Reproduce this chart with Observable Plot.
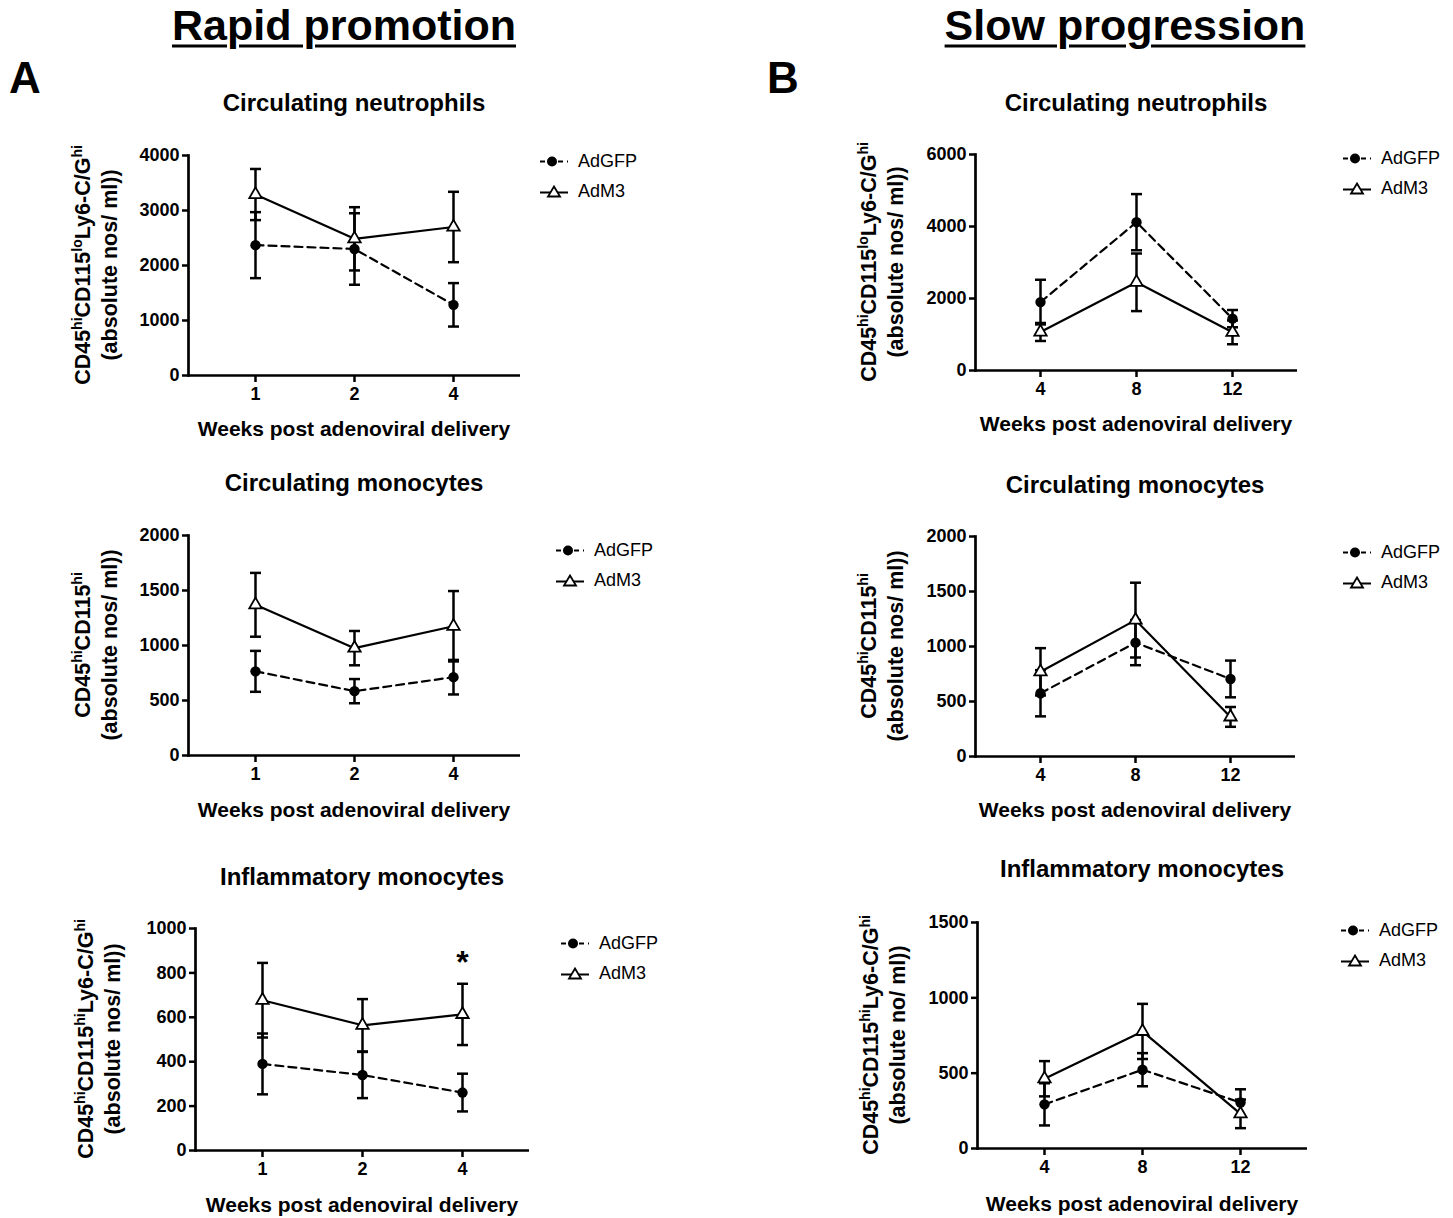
<!DOCTYPE html>
<html><head><meta charset="utf-8">
<script src="https://cdn.jsdelivr.net/npm/d3@7"></script>
<script src="https://cdn.jsdelivr.net/npm/@observablehq/plot@0.6"></script>
<style>
body{margin:0;background:#fff;font-family:"Liberation Sans",Arial,Helvetica,sans-serif;color:#000;}
#root{position:relative;width:1453px;height:1218px;overflow:hidden;background:#fff;}
.abs{position:absolute;white-space:nowrap;color:#000;}
.hdr{font-size:43px;font-weight:bold;text-decoration:underline;text-decoration-thickness:3px;text-underline-offset:5px;transform:translate(-50%,-50%);}
.letter{font-size:44px;font-weight:bold;transform:translateY(-50%);}
.title{font-size:24px;font-weight:bold;transform:translate(-50%,-50%);}
.xlab{font-size:21px;font-weight:bold;transform:translate(-50%,-50%);}
.ylab{font-size:21.5px;font-weight:bold;transform:translate(-50%,-50%) rotate(-90deg);text-align:center;line-height:25px;}
.ylab sup{font-size:14px;vertical-align:0;position:relative;top:-8px;}
.leg{font-size:18px;display:flex;align-items:center;transform:translateY(-50%);}
.leg svg{margin-right:10px;}
.plot{position:absolute;}
</style></head><body><div id="root"></div>
<script>
// ---------- data ----------
const weeksRapid = ["1","2","4"];
const weeksSlow = ["4","8","12"];
const groups = ["AdGFP","AdM3"];

// Rapid promotion - circulating neutrophils
const rapidNeutGFP = [2370, 2300, 1285];
const rapidNeutGFPsem = [600, 650, 395];
const rapidNeutM3 = [3290, 2485, 2700];
const rapidNeutM3sem = [465, 575, 640];
const rapidNeutTicks = [0, 1000, 2000, 3000, 4000];

// Rapid promotion - circulating monocytes
const rapidMonoGFP = [765, 585, 712];
const rapidMonoGFPsem = [186, 110, 157];
const rapidMonoM3 = [1370, 976, 1175];
const rapidMonoM3sem = [290, 156, 320];
const rapidMonoTicks = [0, 500, 1000, 1500, 2000];

// Rapid promotion - inflammatory monocytes
const rapidInflGFP = [390, 340, 261];
const rapidInflGFPsem = [137, 104, 85];
const rapidInflM3 = [677, 564, 613];
const rapidInflM3sem = [168, 118, 138];
const rapidInflTicks = [0, 200, 400, 600, 800, 1000];
const rapidInflSig = [{week: "4", label: "*"}];

// Slow progression - circulating neutrophils
const slowNeutGFP = [1900, 4120, 1440];
const slowNeutGFPsem = [620, 780, 240];
const slowNeutM3 = [1070, 2450, 1060];
const slowNeutM3sem = [250, 800, 330];
const slowNeutTicks = [0, 2000, 4000, 6000];

// Slow progression - circulating monocytes
const slowMonoGFP = [575, 1035, 705];
const slowMonoGFPsem = [210, 205, 167];
const slowMonoM3 = [770, 1240, 360];
const slowMonoM3sem = [215, 340, 90];
const slowMonoTicks = [0, 500, 1000, 1500, 2000];

// Slow progression - inflammatory monocytes
const slowInflGFP = [293, 523, 305];
const slowInflGFPsem = [140, 110, 88];
const slowInflM3 = [463, 777, 230];
const slowInflM3sem = [117, 183, 95];
const slowInflTicks = [0, 500, 1000, 1500];

const titles = ["Circulating neutrophils", "Circulating monocytes", "Inflammatory monocytes"];
const xLabel = "Weeks post adenoviral delivery";
const yLabNeut = ["CD45<sup>hi</sup>CD115<sup>lo</sup>Ly6-C/G<sup>hi</sup>", "(absolute nos/ ml))"];
const yLabMono = ["CD45<sup>hi</sup>CD115<sup>hi</sup>", "(absolute nos/ ml))"];
const yLabInfl = ["CD45<sup>hi</sup>CD115<sup>hi</sup>Ly6-C/G<sup>hi</sup>", "(absolute nos/ ml))"];
const yLabInflSlow = ["CD45<sup>hi</sup>CD115<sup>hi</sup>Ly6-C/G<sup>hi</sup>", "(absolute no/ ml))"];

// ---------- layout ----------
const root = document.getElementById("root");
function addDiv(cls, x, y, html) {
  const d = document.createElement("div");
  d.className = "abs " + cls;
  d.style.left = x + "px"; d.style.top = y + "px";
  d.innerHTML = html;
  root.appendChild(d);
  return d;
}
addDiv("hdr", 344, 25, "Rapid promotion");
addDiv("hdr", 1125, 25, "Slow progression");
addDiv("letter", 9, 78, "A");
addDiv("letter", 767, 78, "B");

const panels = [
  {weeks: weeksRapid, gfp: rapidNeutGFP, gfpSem: rapidNeutGFPsem, m3: rapidNeutM3, m3Sem: rapidNeutM3sem, ticks: rapidNeutTicks,
   title: titles[0], ylab: yLabNeut, frame: [188, 520, 155, 375], titleY: 103, xlabY: 429, ylabX: 97, legX: 540, legY: 161},
  {weeks: weeksRapid, gfp: rapidMonoGFP, gfpSem: rapidMonoGFPsem, m3: rapidMonoM3, m3Sem: rapidMonoM3sem, ticks: rapidMonoTicks,
   title: titles[1], ylab: yLabMono, frame: [188, 520, 535, 755], titleY: 483, xlabY: 810, ylabX: 97, legX: 556, legY: 550},
  {weeks: weeksRapid, gfp: rapidInflGFP, gfpSem: rapidInflGFPsem, m3: rapidInflM3, m3Sem: rapidInflM3sem, ticks: rapidInflTicks,
   title: titles[2], ylab: yLabInfl, frame: [195, 529, 928, 1150], titleY: 877, xlabY: 1205, ylabX: 100, legX: 561, legY: 943, sig: rapidInflSig},
  {weeks: weeksSlow, gfp: slowNeutGFP, gfpSem: slowNeutGFPsem, m3: slowNeutM3, m3Sem: slowNeutM3sem, ticks: slowNeutTicks,
   title: titles[0], ylab: yLabNeut, frame: [975, 1297, 154, 370], titleY: 103, xlabY: 424, ylabX: 883, legX: 1343, legY: 158},
  {weeks: weeksSlow, gfp: slowMonoGFP, gfpSem: slowMonoGFPsem, m3: slowMonoM3, m3Sem: slowMonoM3sem, ticks: slowMonoTicks,
   title: titles[1], ylab: yLabMono, frame: [975, 1295, 536, 756], titleY: 485, xlabY: 810, ylabX: 883, legX: 1343, legY: 552},
  {weeks: weeksSlow, gfp: slowInflGFP, gfpSem: slowInflGFPsem, m3: slowInflM3, m3Sem: slowInflM3sem, ticks: slowInflTicks,
   title: titles[2], ylab: yLabInflSlow, frame: [977, 1307, 922, 1148], titleY: 869, xlabY: 1204, ylabX: 885, legX: 1341, legY: 930}
];

const mL = 70, mR = 10, mT = 20, mB = 40;
const legGFP = '<svg width="28" height="14"><line x1="0" x2="28" y1="7" y2="7" stroke="#000" stroke-width="2" stroke-dasharray="5,4"/><circle cx="12" cy="7" r="5" fill="#000"/></svg>';
const legM3 = '<svg width="28" height="14"><line x1="0" x2="28" y1="8" y2="8" stroke="#000" stroke-width="2"/><path d="M14,2 L20,12 L8,12 Z" fill="#fff" stroke="#000" stroke-width="1.8"/></svg>';

// horizontal cap symbol for error bars
const capSymbol = {draw(ctx) { ctx.moveTo(-5.5, 0); ctx.lineTo(5.5, 0); }};

for (const p of panels) {
  const [fx0, fx1, fy0, fy1] = p.frame;
  const rows = [];
  p.weeks.forEach((w, i) => {
    rows.push({group: groups[0], week: w, mean: p.gfp[i], sem: p.gfpSem[i]});
    rows.push({group: groups[1], week: w, mean: p.m3[i], sem: p.m3Sem[i]});
  });
  const gfpRows = rows.filter(d => d.group === groups[0]);
  const m3Rows = rows.filter(d => d.group === groups[1]);
  const yMax = p.ticks[p.ticks.length - 1];
  const marks = [
    Plot.ruleX(rows, {x: "week", y1: d => d.mean - d.sem, y2: d => d.mean + d.sem, stroke: "#000", strokeWidth: 2.5}),
    Plot.dot(rows, {x: "week", y: d => d.mean + d.sem, symbol: capSymbol, r: 5, fill: "none", stroke: "#000", strokeWidth: 2.5}),
    Plot.dot(rows, {x: "week", y: d => d.mean - d.sem, symbol: capSymbol, r: 5, fill: "none", stroke: "#000", strokeWidth: 2.5}),
    Plot.line(gfpRows, {x: "week", y: "mean", stroke: "#000", strokeWidth: 2.2, strokeDasharray: "8,5"}),
    Plot.line(m3Rows, {x: "week", y: "mean", stroke: "#000", strokeWidth: 2.2}),
    Plot.dot(gfpRows, {x: "week", y: "mean", r: 5.2, fill: "#000", stroke: "none"}),
    Plot.dot(m3Rows, {x: "week", y: "mean", symbol: "triangle", r: 4.6, fill: "#fff", stroke: "#000", strokeWidth: 1.8}),
    Plot.axisY({ticks: p.ticks, tickFormat: d => String(d), tickSize: 6, tickPadding: 3, label: null, strokeWidth: 2.5, fontSize: 18, fontWeight: "bold"}),
    Plot.axisX({tickSize: 7, tickPadding: 5, label: null, strokeWidth: 2.5, fontSize: 18, fontWeight: "bold"}),
    Plot.ruleY([0], {stroke: "#000", strokeWidth: 2.7}),
    Plot.frame({anchor: "left", stroke: "#000", strokeWidth: 2.7})
  ];
  if (p.sig) {
    marks.push(Plot.text(p.sig, {x: "week", y: () => yMax, text: "label", dy: 34, fontSize: 32, fontWeight: "bold"}));
  }
  const svg = Plot.plot({
    width: (fx1 - fx0) + mL + mR,
    height: (fy1 - fy0) + mT + mB,
    marginLeft: mL, marginRight: mR, marginTop: mT, marginBottom: mB,
    style: {fontFamily: '"Liberation Sans", Arial, sans-serif', fontSize: "18px", fontWeight: "bold", color: "#000", background: "transparent", overflow: "visible"},
    x: {type: "point", domain: p.weeks, padding: 0.67, label: null},
    y: {domain: [0, yMax], nice: false, label: null},
    marks
  });
  svg.classList.add("plot");
  svg.style.left = (fx0 - mL) + "px";
  svg.style.top = (fy0 - mT) + "px";
  root.appendChild(svg);

  const cx = (fx0 + fx1) / 2;
  addDiv("title", cx, p.titleY, p.title);
  addDiv("xlab", cx, p.xlabY, xLabel);
  addDiv("ylab", p.ylabX, (fy0 + fy1) / 2, "<div>" + p.ylab[0] + "</div><div>" + p.ylab[1] + "</div>");
  addDiv("leg", p.legX, p.legY, legGFP + groups[0]);
  addDiv("leg", p.legX, p.legY + 30, legM3 + groups[1]);
}
</script></body></html>
